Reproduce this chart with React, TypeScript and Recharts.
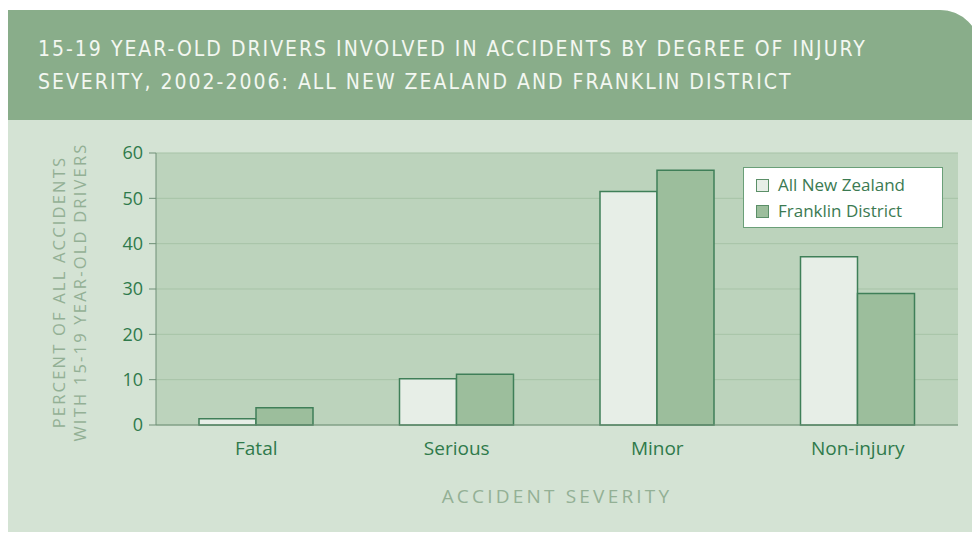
import { BarChart, Bar, XAxis, YAxis, CartesianGrid, Legend } from "recharts";

const categories = ["Fatal", "Serious", "Minor", "Non-injury"];
const allNewZealand = [1.4, 10.2, 51.5, 37.1];
const franklinDistrict = [3.8, 11.2, 56.2, 29.0];
const yTicks = [0, 10, 20, 30, 40, 50, 60];

const data = categories.map((name, i) => ({
  name,
  nz: allNewZealand[i],
  franklin: franklinDistrict[i],
}));

const FONT = "'Open Sans', 'DejaVu Sans', sans-serif";
const TICK_GREEN = "#2f7a4b";
const MUTED = "#93b095";
const BAR_STROKE = "#3f7f58";

function LegendBox() {
  const items = [
    { label: "All New Zealand", fill: "#e7eee7" },
    { label: "Franklin District", fill: "#9cbe9c" },
  ];
  return (
    <div
      style={{
        background: "#ffffff",
        border: "1.5px solid #6a9f78",
        width: 200,
        height: 61,
        padding: "4px 0 4px 12px",
        boxSizing: "border-box",
        fontFamily: FONT,
        fontSize: 17,
        color: "#3b7a52",
        lineHeight: "26px",
        textAlign: "left",
      }}
    >
      {items.map((it) => (
        <div key={it.label} style={{ display: "flex", alignItems: "center" }}>
          <span
            style={{
              display: "inline-block",
              width: 11,
              height: 11,
              background: it.fill,
              border: "1px solid #5b8f68",
              marginRight: 9,
            }}
          />
          {it.label}
        </div>
      ))}
    </div>
  );
}

// two-line rotated y axis title
function YTitle(props: any) {
  const { viewBox } = props;
  const cy = viewBox.y + viewBox.height / 2 + 3;
  const style = { fontFamily: FONT, fontSize: 16.5, letterSpacing: 2.2, fill: MUTED };
  return (
    <g>
      <text x={50} y={cy} textAnchor="middle" transform={`rotate(-90 50 ${cy})`} dominantBaseline="central" style={style}>
        PERCENT OF ALL ACCIDENTS
      </text>
      <text x={71} y={cy} textAnchor="middle" transform={`rotate(-90 71 ${cy})`} dominantBaseline="central" style={style}>
        WITH 15-19 YEAR-OLD DRIVERS
      </text>
    </g>
  );
}

export default function App() {
  return (
    <div
      style={{
        position: "relative",
        marginTop: 2,
        width: 972,
        height: 522,
        background: "#d4e3d4",
        borderTopRightRadius: 40,
        overflow: "hidden",
      }}
    >
      <div
        style={{
          height: 110,
          background: "#89ad8a",
          color: "#f3f7f1",
          fontFamily: "'DejaVu Sans Condensed', 'DejaVu Sans', sans-serif",
          fontSize: 21,
          letterSpacing: 2,
          lineHeight: "33px",
          padding: "23px 0 0 30px",
          boxSizing: "border-box",
        }}
      >
        15-19 YEAR-OLD DRIVERS INVOLVED IN ACCIDENTS BY DEGREE OF INJURY
        <br />
        SEVERITY, 2002-2006: ALL NEW ZEALAND AND FRANKLIN DISTRICT
      </div>
      <div style={{ position: "absolute", left: 0, top: 0 }}>
        <BarChart
          width={972}
          height={522}
          data={data}
          margin={{ top: 143, right: 22, bottom: 77, left: 88 }}
          barSize={57}
          barGap={0}
        >
          <CartesianGrid vertical={false} fill="#bcd3bc" stroke="#a7c3a7" strokeWidth={1} />
          <XAxis
            dataKey="name"
            tickLine={false}
            axisLine={{ stroke: "#6e8f76" }}
            tick={{ fontFamily: FONT, fontSize: 19, fill: TICK_GREEN }}
            tickMargin={11}
            label={{
              value: "ACCIDENT SEVERITY",
              position: "bottom",
              offset: 35,
              style: { fontFamily: FONT, fontSize: 19, letterSpacing: 3.2, fill: MUTED },
            }}
          />
          <YAxis
            width={60}
            domain={[0, 60]}
            ticks={yTicks}
            interval={0}
            axisLine={{ stroke: "#6e8f76" }}
            tickLine={{ stroke: "#6e8f76" }}
            tickSize={7}
            tickMargin={6}
            tick={{ fontFamily: FONT, fontSize: 18, fill: TICK_GREEN }}
            label={<YTitle />}
          />
          <Legend
            layout="horizontal"
            verticalAlign="middle"
            align="center"
            content={() => <LegendBox />}
            wrapperStyle={{ position: "absolute", left: 735, top: 157, width: 200, height: 61 }}
          />
          <Bar dataKey="nz" name="All New Zealand" fill="#e7eee7" stroke={BAR_STROKE} strokeWidth={1.5} isAnimationActive={false} />
          <Bar dataKey="franklin" name="Franklin District" fill="#9cbe9c" stroke={BAR_STROKE} strokeWidth={1.5} isAnimationActive={false} />
        </BarChart>
      </div>
    </div>
  );
}
